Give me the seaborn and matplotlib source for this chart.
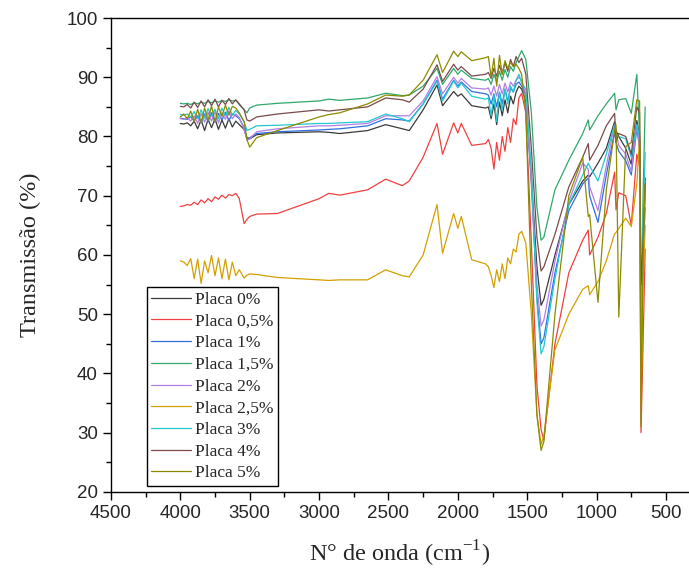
import numpy as np
import pandas as pd
import seaborn as sns
import matplotlib.pyplot as plt
from matplotlib.ticker import MultipleLocator

# wavenumber grid (cm-1) shared by all samples
wavenumber = [4000, 3975, 3950, 3925, 3900, 3875, 3850, 3825, 3800, 3775, 3750, 3725, 3700, 3675, 3650, 3625, 3600, 3575,
              3540, 3520, 3500, 3450, 3300, 3000, 2930, 2850, 2650, 2520, 2400, 2350, 2250, 2150, 2110, 2030, 2000, 1975, 1900, 1800,
              1780, 1760, 1740, 1720, 1700, 1680, 1660, 1640, 1620, 1600, 1580, 1560, 1540,
              1510, 1470, 1430, 1400, 1380, 1300, 1200, 1100, 1060, 1050, 990, 930, 870, 860, 840, 790, 750, 710, 690, 680, 665, 650]

placa_0 = [82.2, 82.1, 82.3, 81.8, 82.6, 81.3, 82.8, 81.0, 82.9, 81.5, 83.0, 81.2, 82.8, 81.4, 83.0, 81.6, 82.6, 82.0,
           81.2, 79.8, 79.6, 80.3, 80.6, 80.8, 80.7, 80.5, 81.0, 82.0, 81.3, 81.0, 84.5, 88.7, 85.2, 87.6, 86.8, 87.2, 85.2, 84.8,
           85.0, 83.0, 85.5, 82.0, 85.8, 83.5, 86.2, 84.0, 86.8, 85.5, 87.5, 88.5, 88.0,
           86.0, 73.0, 58.0, 51.5, 52.5, 60.0, 68.5, 72.5, 73.5, 73.2, 75.5, 78.0, 82.5, 81.0, 80.0, 78.0, 75.3, 82.7, 80.0, 54.0, 60.0, 73.0]
placa_05 = [68.2, 68.3, 68.5, 68.4, 68.9, 68.5, 69.3, 68.8, 69.5, 69.0, 69.8, 69.4, 70.1, 69.6, 70.2, 70.0, 70.4, 69.5,
            65.3, 66.0, 66.5, 66.9, 67.0, 69.5, 70.4, 70.1, 71.0, 72.8, 71.7, 72.5, 76.5, 82.2, 77.0, 82.3, 80.6, 82.2, 78.5, 78.8,
            79.5, 78.0, 74.5, 79.0, 76.0, 80.0, 77.5, 81.5, 79.0, 83.0, 82.0, 86.5, 87.3,
            84.0, 62.0, 38.0, 30.5, 28.8, 45.0, 57.0, 62.5, 64.2, 60.0, 63.0, 67.0, 74.0, 67.6, 70.5, 70.0, 65.0, 77.0, 75.0, 30.0, 45.0, 61.0]
placa_1 = [83.1, 83.0, 82.9, 83.3, 82.6, 83.5, 82.3, 83.8, 82.5, 84.0, 82.4, 83.9, 82.8, 84.1, 82.7, 83.8, 83.5, 83.0,
           81.5, 79.7, 79.8, 80.5, 80.8, 81.1, 81.2, 81.3, 81.8, 83.0, 82.8, 82.6, 85.5, 89.5, 86.3, 89.5, 88.5, 89.2, 87.6, 87.2,
           87.0, 85.5, 87.2, 85.0, 87.5, 85.5, 88.0, 86.0, 88.2, 87.5, 88.8, 89.2, 88.5,
           87.0, 72.0, 53.0, 45.0, 46.0, 57.0, 67.5, 72.0, 73.0, 70.0, 65.5, 73.5, 80.8, 79.0, 77.5, 75.9, 73.5, 81.4, 78.0, 46.0, 60.0, 68.0]
placa_15 = [85.6, 85.5, 85.6, 85.4, 85.7, 85.5, 85.8, 85.6, 85.9, 85.7, 86.0, 85.8, 86.1, 85.9, 86.2, 86.0, 86.1, 85.4,
            84.5, 84.0, 84.8, 85.3, 85.6, 86.0, 86.3, 86.1, 86.5, 87.3, 86.9, 87.0, 88.5, 91.5, 88.8, 91.5, 90.5, 91.2, 89.8, 89.5,
            89.8, 88.8, 90.5, 89.2, 91.0, 89.5, 91.3, 90.0, 91.8, 91.0, 92.5, 93.5, 94.5,
            93.0, 84.0, 68.0, 62.5, 63.0, 71.0, 76.0, 80.5, 82.8, 81.1, 83.5, 85.5, 87.3, 84.5, 86.2, 86.4, 83.9, 90.5, 80.0, 41.0, 70.0, 85.0]
placa_2 = [83.0, 82.9, 83.2, 82.6, 83.5, 82.2, 83.9, 82.4, 84.1, 82.6, 84.2, 82.3, 84.0, 82.9, 84.3, 83.0, 83.8, 83.2,
           81.2, 79.4, 79.6, 80.8, 81.3, 81.8, 81.8, 81.9, 82.2, 83.5, 83.5, 83.5, 86.0, 90.1, 87.2, 90.0, 89.0, 89.8, 88.2, 88.0,
           88.2, 87.0, 88.5, 86.8, 88.8, 87.2, 89.0, 87.5, 89.2, 88.5, 89.5, 90.0, 89.5,
           87.0, 72.5, 55.0, 48.0, 49.0, 59.0, 69.0, 75.5, 74.5, 71.5, 67.5, 75.0, 82.0, 80.5, 78.5, 77.0, 74.1, 82.0, 78.0, 50.0, 60.0, 70.0]
placa_25 = [59.0, 58.8, 58.2, 59.4, 56.0, 59.3, 55.2, 59.0, 57.0, 59.9, 56.5, 59.5, 56.0, 59.3, 55.8, 58.8, 56.5, 57.5,
            56.1, 56.6, 56.8, 56.7, 56.2, 55.8, 55.7, 55.8, 55.8, 57.5, 56.5, 56.3, 60.0, 68.5, 60.3, 67.0, 64.5, 66.5, 59.2, 58.5,
            58.0, 56.5, 54.5, 57.5, 55.5, 58.5, 56.0, 59.5, 58.5, 61.0, 60.5, 63.5, 64.0,
            62.0, 50.0, 33.0, 28.0, 29.5, 44.0, 50.0, 54.2, 54.8, 53.3, 55.5, 59.0, 63.6, 63.8, 64.5, 66.2, 64.8, 72.0, 80.0, 35.0, 55.0, 65.0]
placa_3 = [83.7, 83.6, 83.8, 83.3, 84.2, 83.0, 84.5, 83.1, 84.7, 83.4, 84.6, 83.0, 84.8, 83.5, 84.9, 83.6, 84.4, 83.8,
           82.5, 81.0, 81.2, 81.8, 81.9, 82.2, 82.2, 82.3, 82.5, 83.8, 83.0, 82.5, 85.5, 89.3, 86.0, 89.4, 88.2, 89.0, 86.8, 86.3,
           86.5, 83.5, 87.0, 82.5, 87.5, 84.5, 88.0, 85.5, 88.5, 87.5, 89.5, 90.5, 89.0,
           88.0, 74.0, 52.0, 43.3, 44.5, 56.0, 68.5, 73.5, 75.5, 75.0, 72.5, 77.0, 82.0, 80.5, 80.0, 79.6, 76.5, 82.0, 80.0, 44.0, 65.0, 77.3]
placa_4 = [85.1, 85.0, 85.4, 84.8, 85.8, 84.9, 86.0, 85.0, 86.2, 85.2, 86.3, 85.0, 86.1, 85.4, 86.4, 85.5, 86.2, 85.5,
           84.5, 82.8, 82.6, 83.3, 83.8, 84.5, 84.3, 84.5, 85.0, 86.5, 86.2, 85.8, 88.0, 92.1, 89.3, 92.2, 91.2, 91.8, 90.2, 90.5,
           90.8, 89.8, 91.5, 90.2, 92.0, 90.5, 92.5, 91.0, 93.0, 91.8, 93.5, 92.5, 93.2,
           90.5, 78.0, 63.0, 57.3, 58.0, 63.5, 71.5, 76.5, 78.8, 76.0, 78.5, 81.8, 83.9, 79.0, 80.5, 80.0, 77.0, 85.0, 84.0, 55.0, 62.0, 72.0]
placa_5 = [83.3, 83.8, 83.0, 84.3, 82.5, 84.6, 82.3, 84.8, 82.7, 85.2, 82.5, 85.0, 83.4, 85.3, 83.6, 85.1, 84.8, 84.0,
           82.5, 79.5, 78.2, 79.8, 81.0, 83.3, 83.7, 84.0, 85.5, 87.0, 86.8, 87.0, 89.5, 93.8, 90.8, 94.4, 93.5, 94.3, 92.8, 93.3,
           93.5, 90.0, 93.2, 88.5, 93.7, 90.5, 92.8, 91.5, 92.5, 91.8, 92.2, 91.5, 90.5,
           84.0, 55.0, 33.0, 27.0, 28.5, 50.0, 70.0, 76.5, 66.5, 66.8, 52.0, 71.0, 81.0, 82.0, 49.5, 78.3, 79.0, 86.2, 86.0, 31.0, 60.0, 72.0]

labels = ['Placa 0%', 'Placa 0,5%', 'Placa 1%', 'Placa 1,5%', 'Placa 2%',
          'Placa 2,5%', 'Placa 3%', 'Placa 4%', 'Placa 5%']
series = [placa_0, placa_05, placa_1, placa_15, placa_2, placa_25, placa_3, placa_4, placa_5]
colors = ['#3a3a3a', '#f04040', '#2f6fe0', '#2fa86a', '#b37fe6',
          '#d4a000', '#22c8d2', '#7a4a4a', '#8c8a00']

frames = [pd.DataFrame({'wn': wavenumber, 'T': vals, 'Amostra': lab}) for lab, vals in zip(labels, series)]
df = pd.concat(frames, ignore_index=True)

sns.set_style('ticks')
plt.rcParams['font.family'] = ['Liberation Sans', 'DejaVu Sans']
plt.rcParams['mathtext.fontset'] = 'custom'
plt.rcParams['mathtext.rm'] = 'Liberation Serif'

fig = plt.figure(figsize=(6.89, 5.72), dpi=100)
ax = fig.add_axes([0.161, 0.14, 0.839, 0.8285])

sns.lineplot(data=df, x='wn', y='T', hue='Amostra', palette=dict(zip(labels, colors)),
             estimator=None, sort=False, linewidth=0.9, ax=ax)

ax.set_xlim(4500, 334)
ax.set_ylim(20, 100)
ax.xaxis.set_major_locator(MultipleLocator(500))
ax.xaxis.set_minor_locator(MultipleLocator(250))
ax.yaxis.set_major_locator(MultipleLocator(10))
ax.yaxis.set_minor_locator(MultipleLocator(5))
ax.tick_params(which='both', direction='out', color='black', width=1.0)
ax.tick_params(which='major', length=6, labelsize=13.5)
ax.tick_params(which='minor', length=3.5)
for side in ['left', 'bottom', 'top']:
    ax.spines[side].set_visible(True)
    ax.spines[side].set_color('black')
    ax.spines[side].set_linewidth(1.0)
ax.spines['right'].set_visible(False)

ax.set_xlabel('N° de onda (cm$^{\\mathregular{-1}}$)', family='Liberation Serif', fontsize=17.5, labelpad=12)
ax.set_ylabel('Transmissão (%)', family='Liberation Serif', fontsize=17.5, labelpad=18)

handles, labs = ax.get_legend_handles_labels()
leg = ax.legend(handles, labs, loc='lower left', bbox_to_anchor=(0.062, 0.013),
                prop={'family': 'Liberation Serif', 'size': 12.5}, frameon=True, fancybox=False,
                edgecolor='black', framealpha=1, labelspacing=0.32, handlelength=2.3,
                handletextpad=0.25, borderpad=0.25, borderaxespad=0)
leg.get_frame().set_linewidth(1.0)

fig.savefig('out.png', dpi=100)
